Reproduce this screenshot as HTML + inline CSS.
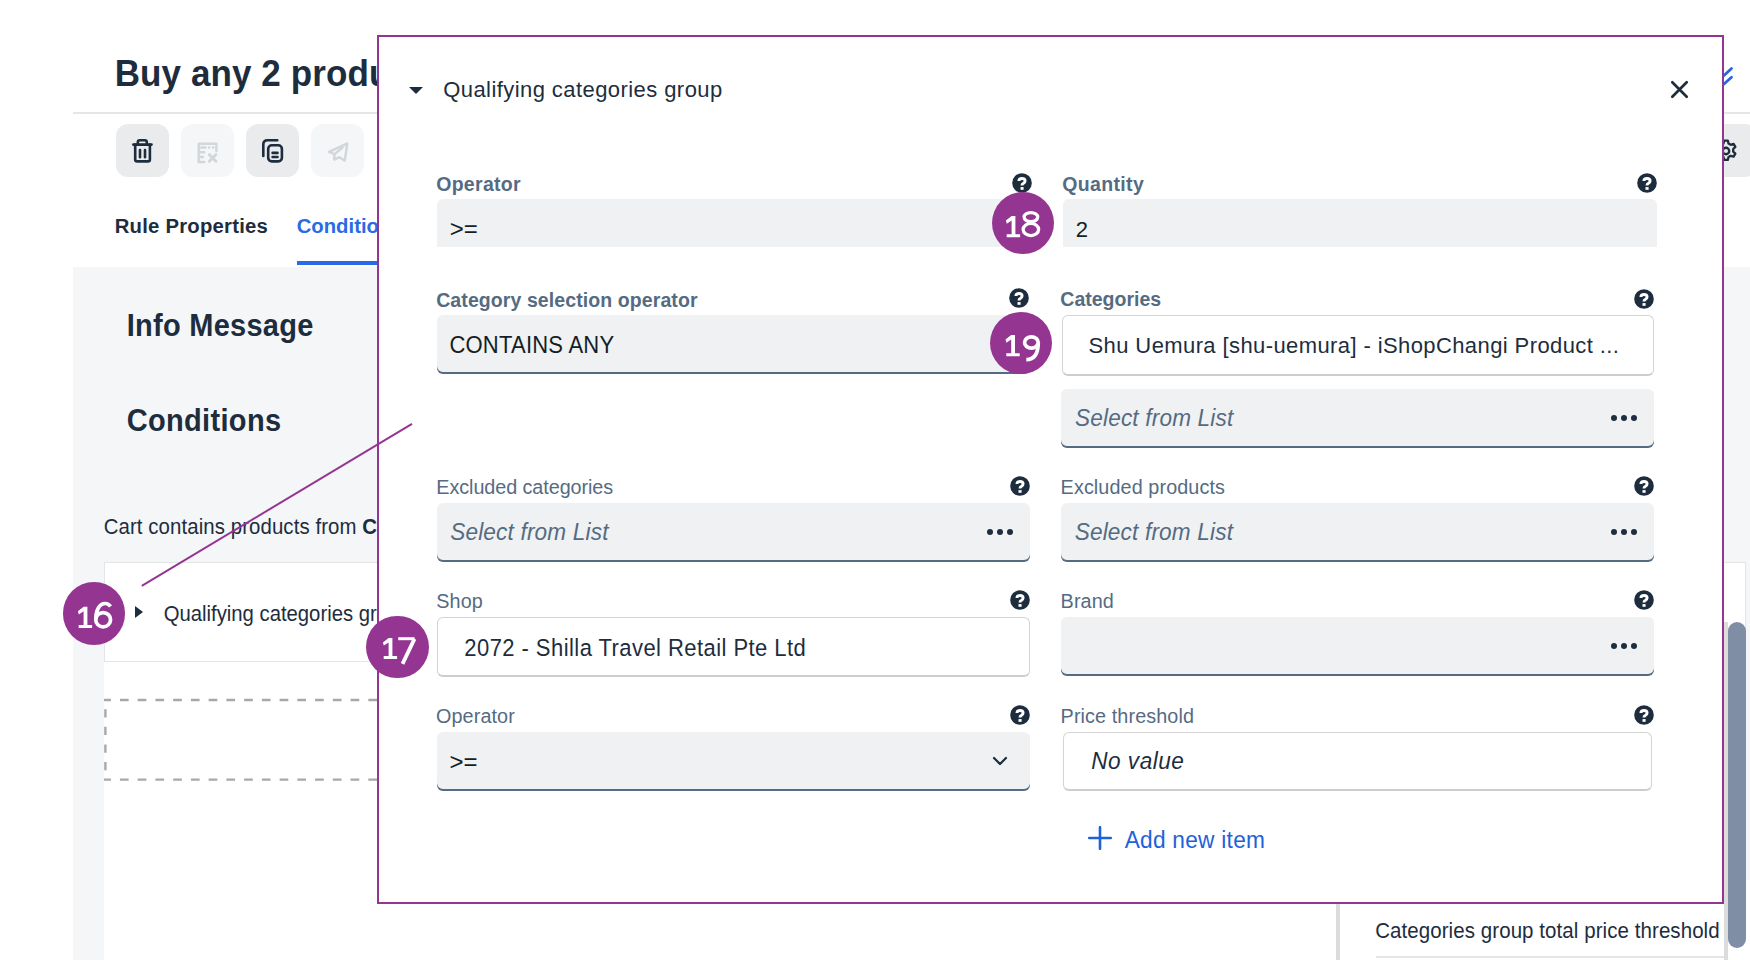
<!DOCTYPE html>
<html><head><meta charset="utf-8"><title>Qualifying categories group</title>
<style>
html,body{margin:0;padding:0;width:1750px;height:960px;overflow:hidden;background:#fff}
body{position:relative;font-family:"Liberation Sans",sans-serif}
.t{position:absolute;white-space:nowrap}
.r{position:absolute}
.co{width:62px;height:62px;border-radius:50%;background:#953592;color:#fff;font-size:33px;line-height:62px;text-align:center;letter-spacing:-1px;font-family:"Liberation Sans",sans-serif}
</style></head><body>
<div class="t" style="left:114.70px;top:56.37px;font-size:35px;line-height:35px;font-weight:700;color:#1d2d3e;font-style:normal;letter-spacing:0.1px;transform:scaleY(1.06);transform-origin:0 29.63px;">Buy any 2 products with Shu Uemura</div>
<div class="r" style="left:73px;top:112px;width:1677px;height:2px;background:#e4e6e8"></div>
<div class="r" style="left:116px;top:124px;width:53px;height:53px;background:#e9ebed;border-radius:12px"></div>
<div class="r" style="left:116px;top:124px;width:53px;height:53px"><svg width="53" height="53" viewBox="0 0 53 53"><g fill="none" stroke="#1d2d3e" stroke-width="2.6" stroke-linecap="round" stroke-linejoin="round"><path d="M17.3 20.6H35.5"/><path d="M21.8 20.6V18.3q0-2 2-2h5q2 0 2 2V20.6"/><path d="M19.2 20.6V35.4q0 2 2 2H31.9q2 0 2-2V20.6"/><path d="M24 26V33.2M29 26V33.2"/></g></svg></div>
<div class="r" style="left:181px;top:124px;width:53px;height:53px;background:#f5f6f7;border-radius:12px"></div>
<div class="r" style="left:181px;top:124px;width:53px;height:53px"><svg width="53" height="53" viewBox="0 0 53 53"><g fill="none" stroke="#d3d7db" stroke-width="2.5" stroke-linecap="round" stroke-linejoin="round"><path d="M17.8 37.9V19.7H35.4V27"/><path d="M20.2 23.5h4.2M28 23.5h.3M32 23.5h.3"/><path d="M17.8 28.3h5.5M17.8 33h4.2M17.8 37.9h5.5"/><path d="M28.3 30.6l6.6 6.6M34.9 30.6l-6.6 6.6" stroke-width="2.9"/></g></svg></div>
<div class="r" style="left:246px;top:124px;width:53px;height:53px;background:#e9ebed;border-radius:12px"></div>
<div class="r" style="left:246px;top:124px;width:53px;height:53px"><svg width="53" height="53" viewBox="0 0 53 53"><g fill="none" stroke="#1d2d3e" stroke-width="2.6" stroke-linecap="round" stroke-linejoin="round"><path d="M17.3 32V20.5q0-4.2 4.2-4.2H31.3"/><rect x="22.2" y="21.3" width="13.7" height="16.1" rx="3.6"/><path d="M26.6 28.9H31.5M26.6 33H31.5"/></g></svg></div>
<div class="r" style="left:311px;top:124px;width:53px;height:53px;background:#f5f6f7;border-radius:12px"></div>
<div class="r" style="left:311px;top:124px;width:53px;height:53px"><svg width="53" height="53" viewBox="0 0 53 53"><g fill="none" stroke="#d3d7db" stroke-width="2.5" stroke-linejoin="round" stroke-linecap="round"><path d="M18 27.8L36.3 19.5 33.8 36.6 28.4 33.2 23.2 35.6 23.4 30.2Z"/><path d="M23.4 30.2L31.5 23.6"/></g></svg></div>
<div class="r" style="left:1697px;top:124px;width:60px;height:53px;background:#e9ebed;border-radius:12px"></div>
<div class="r" style="left:1710.5px;top:135.6px;width:30px;height:30px"><svg width="30" height="30" viewBox="0 0 30 30"><g transform="translate(15 15) scale(0.9) translate(-15 -15)" fill="none" stroke="#1d2d3e" stroke-width="2.6" stroke-linejoin="round"><path d="M13 3.5h4l.8 3.2 2.4 1.4 3.2-1 2 3.4-2.4 2.3v2.8l2.4 2.3-2 3.4-3.2-1-2.4 1.4-.8 3.2h-4l-.8-3.2-2.4-1.4-3.2 1-2-3.4 2.4-2.3v-2.8L4.6 10.5l2-3.4 3.2 1 2.4-1.4z"/><circle cx="15" cy="15" r="3.6"/></g></svg></div>
<div class="r" style="left:1712px;top:62px;width:30px;height:30px"><svg width="30" height="30" viewBox="0 0 30 30"><g fill="none" stroke="#2a64e0" stroke-width="2.8" stroke-linecap="round" stroke-linejoin="round"><path d="M8.5 10.5l3.5 3 7.5-7"/><path d="M8.5 19l3.5 3 7.5-6.8"/></g></svg></div>
<div class="t" style="left:114.70px;top:215.82px;font-size:20.3px;line-height:20.3px;font-weight:700;color:#1d2d3e;font-style:normal;letter-spacing:0.23px;transform:scaleY(1.04);transform-origin:0 17.18px;">Rule Properties</div>
<div class="t" style="left:296.70px;top:215.82px;font-size:20.3px;line-height:20.3px;font-weight:700;color:#2a6ae6;font-style:normal;letter-spacing:0px;transform:scaleY(1.04);transform-origin:0 17.18px;">Conditions</div>
<div class="r" style="left:297px;top:261px;width:200px;height:4px;background:#2a6ae6"></div>
<div class="r" style="left:73px;top:267px;width:1677px;height:693px;background:#f5f6f7"></div>
<div class="t" style="left:126.70px;top:312.45px;font-size:29px;line-height:29px;font-weight:700;color:#1d2d3e;font-style:normal;letter-spacing:0.27px;transform:scaleY(1.06);transform-origin:0 24.55px;">Info Message</div>
<div class="t" style="left:126.70px;top:407.45px;font-size:29px;line-height:29px;font-weight:700;color:#1d2d3e;font-style:normal;letter-spacing:0.33px;transform:scaleY(1.06);transform-origin:0 24.55px;">Conditions</div>
<div class="t" style="left:103.70px;top:517.23px;font-size:20.4px;line-height:20.4px;font-weight:400;color:#1d2d3e;font-style:normal;letter-spacing:0.09px;transform:scaleY(1.04);transform-origin:0 17.27px;">Cart contains products from <b>Categories</b></div>
<div class="r" style="left:104px;top:563px;width:1642px;height:397px;background:#fff"></div>
<div class="r" style="left:104px;top:562px;width:1642px;height:100px;border:1.5px solid #e3e5e7;box-sizing:border-box;background:#fff"></div>
<div class="r" style="left:135px;top:606px;width:0;height:0;border-top:6.5px solid transparent;border-bottom:6.5px solid transparent;border-left:8px solid #1d2d3e"></div>
<div class="t" style="left:163.70px;top:603.82px;font-size:20.3px;line-height:20.3px;font-weight:400;color:#1d2d3e;font-style:normal;letter-spacing:0px;transform:scaleY(1.05);transform-origin:0 17.18px;">Qualifying categories group</div>
<svg class="r" style="left:0;top:0" width="1750" height="960"><g stroke="#a8a8a8" stroke-width="2.4" fill="none"><line x1="104" y1="700" x2="1746" y2="700" stroke-dasharray="8.7 9.04" stroke-dashoffset="1.8"/><line x1="104" y1="779.6" x2="1746" y2="779.6" stroke-dasharray="8.7 9.04" stroke-dashoffset="1.8"/><line x1="105.4" y1="701" x2="105.4" y2="779" stroke-dasharray="8.3 9.3" stroke-dashoffset="9.4"/></g></svg>
<div class="r" style="left:1336px;top:880px;width:410px;height:80px;background:#fff;border-left:4px solid #dcdcdc"></div>
<div class="t" style="left:1375.20px;top:920.65px;font-size:20.5px;line-height:20.5px;font-weight:400;color:#1d2d3e;font-style:normal;letter-spacing:0.07px;transform:scaleY(1.04);transform-origin:0 17.35px;">Categories group total price threshold</div>
<div class="r" style="left:1376px;top:956px;width:348px;height:1.5px;background:#e3e5e7"></div>
<div class="r" style="left:1724px;top:622px;width:4px;height:338px;background:#dcdcdc"></div>
<div class="r" style="left:1728px;top:622px;width:18px;height:326px;background:#7f8da5;border-radius:9px"></div>
<div class="r" style="left:379px;top:36px;width:1343px;height:866px;background:#fff"></div>
<div class="r" style="left:408.8px;top:86.5px;width:0;height:0;border-left:7px solid transparent;border-right:7px solid transparent;border-top:7.6px solid #1d2d3e"></div>
<div class="t" style="left:443.20px;top:79.38px;font-size:22px;line-height:22px;font-weight:400;color:#1d2d3e;font-style:normal;letter-spacing:0.43px;transform:scaleY(1.04);transform-origin:0 18.62px;">Qualifying categories group</div>
<div class="r" style="left:1668px;top:78px;width:23px;height:23px"><svg width="23" height="23" viewBox="0 0 23 23"><g stroke="#1d2d3e" stroke-width="2.7" stroke-linecap="round"><path d="M4.3 4.3l14.4 14.4M18.7 4.3l-14.4 14.4"/></g></svg></div>
<div class="t" style="left:436.20px;top:175.29px;font-size:19.5px;line-height:19.5px;font-weight:700;color:#556b82;font-style:normal;letter-spacing:0.3px;">Operator</div>
<div class="r" style="left:1011.5px;top:172.5px;width:20px;height:20px"><svg width="20" height="20" viewBox="0 0 20 20"><circle cx="10" cy="10" r="9.8" fill="#1d2d3e"/><path d="M6.9 8.1C6.9 6.2 8.3 5.5 10 5.5 11.9 5.5 13.1 6.4 13.1 8 13.1 9.5 12 10 11.1 10.5 10.3 10.9 10 11.4 10 12.6" fill="none" stroke="#fff" stroke-width="2.9"/><rect x="8.5" y="14.1" width="3.1" height="2.7" fill="#fff"/></svg></div>
<div class="r" style="left:437px;top:199px;width:595px;height:48px;background:#eff1f2;border-radius:6px 6px 0 0"></div>
<div class="t" style="left:449.70px;top:217.48px;font-size:24px;line-height:24px;font-weight:400;color:#131e29;font-style:normal;letter-spacing:0px;">&gt;=</div>
<div class="t" style="left:1062.20px;top:175.29px;font-size:19.5px;line-height:19.5px;font-weight:700;color:#556b82;font-style:normal;letter-spacing:0.35px;">Quantity</div>
<div class="r" style="left:1637px;top:172.5px;width:20px;height:20px"><svg width="20" height="20" viewBox="0 0 20 20"><circle cx="10" cy="10" r="9.8" fill="#1d2d3e"/><path d="M6.9 8.1C6.9 6.2 8.3 5.5 10 5.5 11.9 5.5 13.1 6.4 13.1 8 13.1 9.5 12 10 11.1 10.5 10.3 10.9 10 11.4 10 12.6" fill="none" stroke="#fff" stroke-width="2.9"/><rect x="8.5" y="14.1" width="3.1" height="2.7" fill="#fff"/></svg></div>
<div class="r" style="left:1063px;top:199px;width:594px;height:48px;background:#eff1f2;border-radius:6px 6px 0 0"></div>
<div class="t" style="left:1075.70px;top:219.38px;font-size:22px;line-height:22px;font-weight:400;color:#131e29;font-style:normal;letter-spacing:0px;transform:scaleY(1.03);transform-origin:0 18.62px;">2</div>
<div class="t" style="left:436.20px;top:290.59px;font-size:19.5px;line-height:19.5px;font-weight:700;color:#556b82;font-style:normal;letter-spacing:0.09px;">Category selection operator</div>
<div class="r" style="left:1009px;top:288px;width:20px;height:20px"><svg width="20" height="20" viewBox="0 0 20 20"><circle cx="10" cy="10" r="9.8" fill="#1d2d3e"/><path d="M6.9 8.1C6.9 6.2 8.3 5.5 10 5.5 11.9 5.5 13.1 6.4 13.1 8 13.1 9.5 12 10 11.1 10.5 10.3 10.9 10 11.4 10 12.6" fill="none" stroke="#fff" stroke-width="2.9"/><rect x="8.5" y="14.1" width="3.1" height="2.7" fill="#fff"/></svg></div>
<div class="r" style="left:437px;top:315px;width:593px;height:58.5px;background:#eff1f2;border-radius:6px;box-shadow:inset 0 -2px 0 #556b82;"></div>
<div class="t" style="left:449.40px;top:335.38px;font-size:22px;line-height:22px;font-weight:400;color:#131e29;font-style:normal;letter-spacing:0.23px;transform:scaleY(1.07);transform-origin:0 18.62px;">CONTAINS ANY</div>
<div class="t" style="left:1060.30px;top:290.19px;font-size:19.5px;line-height:19.5px;font-weight:700;color:#556b82;font-style:normal;letter-spacing:0px;">Categories</div>
<div class="r" style="left:1634px;top:288.5px;width:20px;height:20px"><svg width="20" height="20" viewBox="0 0 20 20"><circle cx="10" cy="10" r="9.8" fill="#1d2d3e"/><path d="M6.9 8.1C6.9 6.2 8.3 5.5 10 5.5 11.9 5.5 13.1 6.4 13.1 8 13.1 9.5 12 10 11.1 10.5 10.3 10.9 10 11.4 10 12.6" fill="none" stroke="#fff" stroke-width="2.9"/><rect x="8.5" y="14.1" width="3.1" height="2.7" fill="#fff"/></svg></div>
<div class="r" style="left:1061.5px;top:315px;width:592px;height:61px;background:#fff;border:1.5px solid #d4d4d4;border-bottom:2px solid #cdcdcd;border-radius:6px;box-sizing:border-box"></div>
<div class="t" style="left:1088.50px;top:334.88px;font-size:22px;line-height:22px;font-weight:400;color:#1d2d3e;font-style:normal;letter-spacing:0.4px;transform:scaleY(1.04);transform-origin:0 18.62px;">Shu Uemura [shu-uemura] - iShopChangi Product ...</div>
<div class="r" style="left:1061px;top:389px;width:592.5px;height:59px;background:#eff1f2;border-radius:6px;box-shadow:inset 0 -2px 0 #556b82;"></div>
<div class="t" style="left:1075.00px;top:408.37px;font-size:22.6px;line-height:22.6px;font-weight:400;color:#556b82;font-style:italic;letter-spacing:0.17px;transform:scaleY(1.04);transform-origin:0 19.13px;">Select from List</div>
<div class="r" style="left:1611.0px;top:414.9px;width:6.2px;height:6.2px;border-radius:50%;background:#1d2d3e"></div>
<div class="r" style="left:1620.9px;top:414.9px;width:6.2px;height:6.2px;border-radius:50%;background:#1d2d3e"></div>
<div class="r" style="left:1630.8px;top:414.9px;width:6.2px;height:6.2px;border-radius:50%;background:#1d2d3e"></div>
<div class="t" style="left:436.30px;top:478.44px;font-size:19.8px;line-height:19.8px;font-weight:400;color:#556b82;font-style:normal;letter-spacing:-0.07px;transform:scaleY(1.03);transform-origin:0 16.76px;">Excluded categories</div>
<div class="r" style="left:1009.5px;top:476px;width:20px;height:20px"><svg width="20" height="20" viewBox="0 0 20 20"><circle cx="10" cy="10" r="9.8" fill="#1d2d3e"/><path d="M6.9 8.1C6.9 6.2 8.3 5.5 10 5.5 11.9 5.5 13.1 6.4 13.1 8 13.1 9.5 12 10 11.1 10.5 10.3 10.9 10 11.4 10 12.6" fill="none" stroke="#fff" stroke-width="2.9"/><rect x="8.5" y="14.1" width="3.1" height="2.7" fill="#fff"/></svg></div>
<div class="r" style="left:437px;top:502.5px;width:593px;height:59px;background:#eff1f2;border-radius:6px;box-shadow:inset 0 -2px 0 #556b82;"></div>
<div class="t" style="left:450.20px;top:521.87px;font-size:22.6px;line-height:22.6px;font-weight:400;color:#556b82;font-style:italic;letter-spacing:0.17px;transform:scaleY(1.04);transform-origin:0 19.13px;">Select from List</div>
<div class="r" style="left:986.7px;top:528.9px;width:6.2px;height:6.2px;border-radius:50%;background:#1d2d3e"></div>
<div class="r" style="left:996.6px;top:528.9px;width:6.2px;height:6.2px;border-radius:50%;background:#1d2d3e"></div>
<div class="r" style="left:1006.5px;top:528.9px;width:6.2px;height:6.2px;border-radius:50%;background:#1d2d3e"></div>
<div class="t" style="left:1060.60px;top:478.44px;font-size:19.8px;line-height:19.8px;font-weight:400;color:#556b82;font-style:normal;letter-spacing:0.1px;transform:scaleY(1.03);transform-origin:0 16.76px;">Excluded products</div>
<div class="r" style="left:1634px;top:476px;width:20px;height:20px"><svg width="20" height="20" viewBox="0 0 20 20"><circle cx="10" cy="10" r="9.8" fill="#1d2d3e"/><path d="M6.9 8.1C6.9 6.2 8.3 5.5 10 5.5 11.9 5.5 13.1 6.4 13.1 8 13.1 9.5 12 10 11.1 10.5 10.3 10.9 10 11.4 10 12.6" fill="none" stroke="#fff" stroke-width="2.9"/><rect x="8.5" y="14.1" width="3.1" height="2.7" fill="#fff"/></svg></div>
<div class="r" style="left:1061px;top:502.5px;width:592.5px;height:59px;background:#eff1f2;border-radius:6px;box-shadow:inset 0 -2px 0 #556b82;"></div>
<div class="t" style="left:1074.70px;top:521.87px;font-size:22.6px;line-height:22.6px;font-weight:400;color:#556b82;font-style:italic;letter-spacing:0.17px;transform:scaleY(1.04);transform-origin:0 19.13px;">Select from List</div>
<div class="r" style="left:1610.9px;top:528.9px;width:6.2px;height:6.2px;border-radius:50%;background:#1d2d3e"></div>
<div class="r" style="left:1620.8px;top:528.9px;width:6.2px;height:6.2px;border-radius:50%;background:#1d2d3e"></div>
<div class="r" style="left:1630.7px;top:528.9px;width:6.2px;height:6.2px;border-radius:50%;background:#1d2d3e"></div>
<div class="t" style="left:436.30px;top:592.24px;font-size:19.8px;line-height:19.8px;font-weight:400;color:#556b82;font-style:normal;letter-spacing:0.1px;transform:scaleY(1.03);transform-origin:0 16.76px;">Shop</div>
<div class="r" style="left:1009.5px;top:590px;width:20px;height:20px"><svg width="20" height="20" viewBox="0 0 20 20"><circle cx="10" cy="10" r="9.8" fill="#1d2d3e"/><path d="M6.9 8.1C6.9 6.2 8.3 5.5 10 5.5 11.9 5.5 13.1 6.4 13.1 8 13.1 9.5 12 10 11.1 10.5 10.3 10.9 10 11.4 10 12.6" fill="none" stroke="#fff" stroke-width="2.9"/><rect x="8.5" y="14.1" width="3.1" height="2.7" fill="#fff"/></svg></div>
<div class="r" style="left:437px;top:616.5px;width:593px;height:60px;background:#fff;border:1.5px solid #d4d4d4;border-bottom:2px solid #cdcdcd;border-radius:6px;box-sizing:border-box"></div>
<div class="t" style="left:464.30px;top:638.38px;font-size:22px;line-height:22px;font-weight:400;color:#1d2d3e;font-style:normal;letter-spacing:0.44px;transform:scaleY(1.07);transform-origin:0 18.62px;">2072 - Shilla Travel Retail Pte Ltd</div>
<div class="t" style="left:1060.60px;top:592.24px;font-size:19.8px;line-height:19.8px;font-weight:400;color:#556b82;font-style:normal;letter-spacing:0.1px;transform:scaleY(1.03);transform-origin:0 16.76px;">Brand</div>
<div class="r" style="left:1634px;top:590px;width:20px;height:20px"><svg width="20" height="20" viewBox="0 0 20 20"><circle cx="10" cy="10" r="9.8" fill="#1d2d3e"/><path d="M6.9 8.1C6.9 6.2 8.3 5.5 10 5.5 11.9 5.5 13.1 6.4 13.1 8 13.1 9.5 12 10 11.1 10.5 10.3 10.9 10 11.4 10 12.6" fill="none" stroke="#fff" stroke-width="2.9"/><rect x="8.5" y="14.1" width="3.1" height="2.7" fill="#fff"/></svg></div>
<div class="r" style="left:1061px;top:616.5px;width:592.5px;height:59px;background:#eff1f2;border-radius:6px;box-shadow:inset 0 -2px 0 #556b82;"></div>
<div class="r" style="left:1610.9px;top:642.9px;width:6.2px;height:6.2px;border-radius:50%;background:#1d2d3e"></div>
<div class="r" style="left:1620.8px;top:642.9px;width:6.2px;height:6.2px;border-radius:50%;background:#1d2d3e"></div>
<div class="r" style="left:1630.7px;top:642.9px;width:6.2px;height:6.2px;border-radius:50%;background:#1d2d3e"></div>
<div class="t" style="left:436.00px;top:707.24px;font-size:19.8px;line-height:19.8px;font-weight:400;color:#556b82;font-style:normal;letter-spacing:0.1px;transform:scaleY(1.03);transform-origin:0 16.76px;">Operator</div>
<div class="r" style="left:1009.5px;top:705px;width:20px;height:20px"><svg width="20" height="20" viewBox="0 0 20 20"><circle cx="10" cy="10" r="9.8" fill="#1d2d3e"/><path d="M6.9 8.1C6.9 6.2 8.3 5.5 10 5.5 11.9 5.5 13.1 6.4 13.1 8 13.1 9.5 12 10 11.1 10.5 10.3 10.9 10 11.4 10 12.6" fill="none" stroke="#fff" stroke-width="2.9"/><rect x="8.5" y="14.1" width="3.1" height="2.7" fill="#fff"/></svg></div>
<div class="r" style="left:437px;top:732px;width:593px;height:59px;background:#eff1f2;border-radius:6px;box-shadow:inset 0 -2px 0 #556b82;"></div>
<div class="t" style="left:449.40px;top:749.68px;font-size:24px;line-height:24px;font-weight:400;color:#131e29;font-style:normal;letter-spacing:0px;">&gt;=</div>
<div class="r" style="left:990px;top:753px;width:20px;height:16px"><svg width="20" height="16" viewBox="0 0 20 16"><path d="M4 5l6 6 6-6" fill="none" stroke="#1d2d3e" stroke-width="2.2" stroke-linecap="round" stroke-linejoin="round"/></svg></div>
<div class="t" style="left:1060.60px;top:707.24px;font-size:19.8px;line-height:19.8px;font-weight:400;color:#556b82;font-style:normal;letter-spacing:0.1px;transform:scaleY(1.03);transform-origin:0 16.76px;">Price threshold</div>
<div class="r" style="left:1634px;top:705px;width:20px;height:20px"><svg width="20" height="20" viewBox="0 0 20 20"><circle cx="10" cy="10" r="9.8" fill="#1d2d3e"/><path d="M6.9 8.1C6.9 6.2 8.3 5.5 10 5.5 11.9 5.5 13.1 6.4 13.1 8 13.1 9.5 12 10 11.1 10.5 10.3 10.9 10 11.4 10 12.6" fill="none" stroke="#fff" stroke-width="2.9"/><rect x="8.5" y="14.1" width="3.1" height="2.7" fill="#fff"/></svg></div>
<div class="r" style="left:1063px;top:732px;width:588.5px;height:58.5px;background:#fff;border:1.5px solid #d4d4d4;border-bottom:2px solid #cdcdcd;border-radius:6px;box-sizing:border-box"></div>
<div class="t" style="left:1091.20px;top:750.87px;font-size:22.6px;line-height:22.6px;font-weight:400;color:#1d2d3e;font-style:italic;letter-spacing:0.5px;transform:scaleY(1.05);transform-origin:0 19.13px;">No value</div>
<div class="r" style="left:1088px;top:826px;width:24px;height:24px"><svg width="24" height="24" viewBox="0 0 24 24"><path d="M12 1.2v21.6M1.2 12h21.6" stroke="#1d62d9" stroke-width="2.6" stroke-linecap="round"/></svg></div>
<div class="t" style="left:1124.70px;top:828.78px;font-size:22.7px;line-height:22.7px;font-weight:400;color:#1d62d9;font-style:normal;letter-spacing:0.25px;transform:scaleY(1.07);transform-origin:0 19.22px;">Add new item</div>
<div class="r" style="left:377px;top:34.5px;width:1347px;height:869px;border:2px solid #953592;box-sizing:border-box"></div>
<svg class="r" style="left:0;top:0" width="1750" height="960"><line x1="141.8" y1="585.8" x2="412" y2="423.9" stroke="#953592" stroke-width="2"/></svg>
<div class="r" style="left:62.60px;top:582.20px;width:62.6px;height:62.6px;border-radius:50%;background:#953592"></div>
<div class="r" style="left:366.20px;top:615.60px;width:62.6px;height:62.6px;border-radius:50%;background:#953592"></div>
<div class="r" style="left:991.70px;top:191.60px;width:62.6px;height:62.6px;border-radius:50%;background:#953592"></div>
<div class="r" style="left:989.70px;top:311.90px;width:62.6px;height:62.6px;border-radius:50%;background:#953592"></div>
<svg class="r" style="left:0;top:0" width="1750" height="960"><g transform="translate(77.90 606.70)"><path d="M5.7 0H9.5V18.2H14.2V21.2H0.8V18.2H5.7V4.6L0.9 7.7 0 4.5Z" fill="#fff"/></g><g transform="translate(93.90 601.60)"><g fill="none" stroke="#fff" stroke-width="3.7"><ellipse cx="9.25" cy="18.1" rx="7.4" ry="7.1"/><path d="M1.9 18.1C1.9 8.5 5.6 1.9 11.2 1.9 13.6 1.9 15.4 3 16.6 4.9"/></g></g><g transform="translate(382.90 637.90)"><path d="M5.7 0H9.5V18.2H14.2V21.2H0.8V18.2H5.7V4.6L0.9 7.7 0 4.5Z" fill="#fff"/></g><g transform="translate(398.20 637.20)"><g fill="none" stroke="#fff"><path d="M0 1.5H16.4" stroke-width="3"/><path d="M16.3 1.7L4.3 26.7" stroke-width="3.8"/></g></g><g transform="translate(1005.90 216.00)"><path d="M5.7 0H9.5V18.2H14.2V21.2H0.8V18.2H5.7V4.6L0.9 7.7 0 4.5Z" fill="#fff"/></g><g transform="translate(1021.50 211.00)"><g fill="none" stroke="#fff" stroke-width="3.3"><ellipse cx="9.4" cy="6.1" rx="6.8" ry="4.5"/><ellipse cx="9.4" cy="18.5" rx="7.75" ry="6.05"/></g></g><g transform="translate(1005.50 335.00)"><path d="M5.7 0H9.5V18.2H14.2V21.2H0.8V18.2H5.7V4.6L0.9 7.7 0 4.5Z" fill="#fff"/></g><g transform="translate(1022.70 335.00)"><g fill="none" stroke="#fff" stroke-width="3.7"><ellipse cx="8.7" cy="7.5" rx="6.85" ry="5.65"/><path d="M15.55 7.5C15.55 17 12.5 24.6 3.6 24.6"/></g></g></svg>
</body></html>
